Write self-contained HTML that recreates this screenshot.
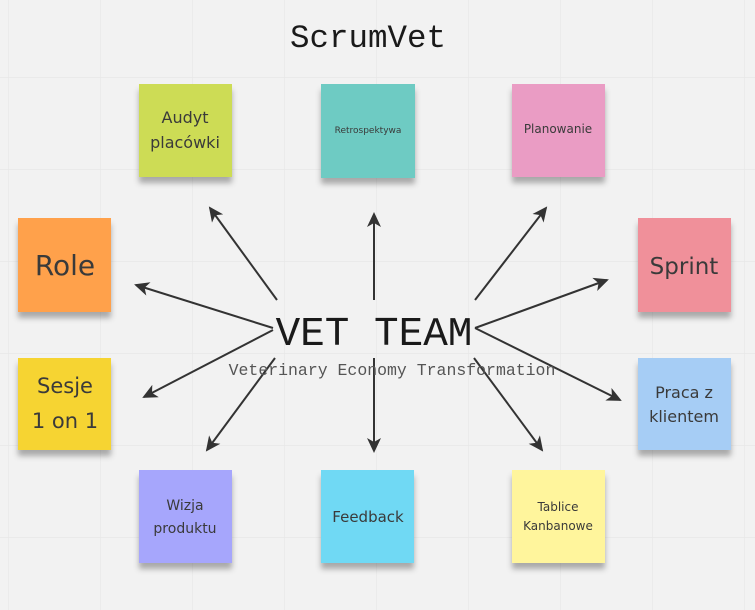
<!DOCTYPE html>
<html><head><meta charset="utf-8"><style>
html,body{margin:0;padding:0;background:#f2f2f2;}
svg{display:block}
</style></head><body>
<svg width="755" height="610" xmlns="http://www.w3.org/2000/svg">
<defs>
<pattern id="g" x="8" y="-15" width="92" height="92" patternUnits="userSpaceOnUse">
<path d="M0 0H92M0 0V92" stroke="#e6e6e6" stroke-width="1.2" fill="none"/>
</pattern>
<marker id="a" markerWidth="15" markerHeight="14" refX="13" refY="7" orient="auto" markerUnits="userSpaceOnUse" viewBox="0 0 15 14">
<path d="M0 0L15 7L0 14L4 7Z" fill="#333"/>
</marker>
<filter id="s" x="-20%" y="-20%" width="140%" height="150%"><feDropShadow dx="0" dy="6" stdDeviation="3" flood-color="#000" flood-opacity="0.3"/></filter>
</defs>
<rect width="755" height="610" fill="#f2f2f2"/>
<rect width="755" height="610" fill="url(#g)"/>
<text x="368" y="47" text-anchor="middle" font-family="Liberation Mono, monospace" font-size="32.5" fill="#1a1a1a">ScrumVet</text>
<g stroke="#333" stroke-width="2" fill="none" marker-end="url(#a)">
<line x1="277" y1="300" x2="210" y2="208"/>
<line x1="374" y1="300" x2="374" y2="214"/>
<line x1="475" y1="300" x2="546" y2="208"/>
<line x1="273" y1="328" x2="136" y2="285"/>
<line x1="475" y1="328" x2="607" y2="280"/>
<line x1="273" y1="330" x2="144" y2="397"/>
<line x1="475" y1="328" x2="620" y2="400"/>
<line x1="275" y1="358" x2="207" y2="450"/>
<line x1="374" y1="358" x2="374" y2="451"/>
<line x1="474" y1="358" x2="542" y2="450"/>
</g>
<text x="374" y="345" text-anchor="middle" font-family="Liberation Mono, monospace" font-size="41" fill="#1a1a1a">VET TEAM</text>
<text x="392" y="375" text-anchor="middle" font-family="Liberation Mono, monospace" font-size="16.5" fill="#555">Veterinary Economy Transformation</text>
<g font-family="DejaVu Sans, Liberation Sans, sans-serif" fill="#3a3a3a" text-anchor="middle">
<rect x="139" y="84" width="93" height="93" fill="#cddc55" filter="url(#s)"/>
<text x="185" y="123" font-size="16">Audyt</text><text x="185" y="148" font-size="16">placówki</text>
<rect x="321" y="84" width="94" height="94" fill="#6ecbc3" filter="url(#s)"/>
<text x="368" y="133" font-size="9">Retrospektywa</text>
<rect x="512" y="84" width="93" height="93" fill="#ea9cc4" filter="url(#s)"/>
<text x="558" y="133" font-size="12">Planowanie</text>
<rect x="18" y="218" width="93" height="94" fill="#ffa14c" filter="url(#s)"/>
<text x="65" y="275" font-size="28">Role</text>
<rect x="638" y="218" width="93" height="94" fill="#f0909a" filter="url(#s)"/>
<text x="684" y="274" font-size="23">Sprint</text>
<rect x="18" y="358" width="93" height="92" fill="#f6d431" filter="url(#s)"/>
<text x="65" y="393" font-size="21">Sesje</text><text x="65" y="428" font-size="21">1 on 1</text>
<rect x="638" y="358" width="93" height="92" fill="#a6cdf5" filter="url(#s)"/>
<text x="684" y="398" font-size="16">Praca z</text><text x="684" y="422" font-size="16">klientem</text>
<rect x="139" y="470" width="93" height="93" fill="#a6a6fc" filter="url(#s)"/>
<text x="185" y="510" font-size="14">Wizja</text><text x="185" y="533" font-size="14">produktu</text>
<rect x="321" y="470" width="93" height="93" fill="#70d9f4" filter="url(#s)"/>
<text x="368" y="522" font-size="15">Feedback</text>
<rect x="512" y="470" width="93" height="93" fill="#fff59c" filter="url(#s)"/>
<text x="558" y="511" font-size="12">Tablice</text><text x="558" y="530" font-size="12">Kanbanowe</text>
</g>
</svg>
</body></html>
